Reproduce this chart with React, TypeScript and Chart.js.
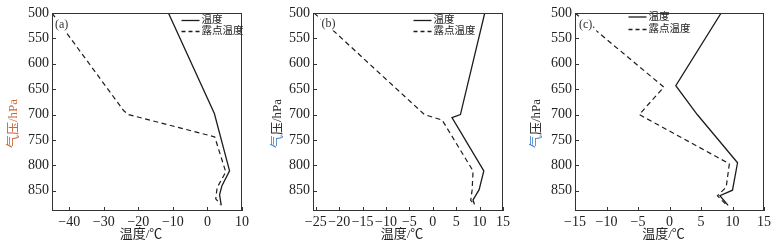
import React, { useEffect, useRef } from 'react';
import { Chart, registerables } from 'chart.js';
Chart.register(...registerables);

// ---------- data ----------
const pressureTicks = [500, 550, 600, 650, 700, 750, 800, 850];
const xTicksA = [-40, -30, -20, -10, 0, 10];
const xTicksB = [-25, -20, -15, -10, -5, 0, 5, 10, 15];
const xTicksC = [-15, -10, -5, 0, 5, 10, 15];

// panel (a)
const tempA = [-11.3, 2.0, 6.4, 4.2, 3.5, 4.0];
const tempPresA = [500, 698, 811, 840, 858, 879];
const dewA = [-45, -24.3, -22.9, 2.1, 5.3, 2.8, 2.4, 3.75];
const dewPresA = [500, 692, 700, 744, 813, 844, 866, 877];

// panel (b)
const tempB = [11.1, 5.9, 4.1, 10.9, 9.9, 8.6, 8.9];
const tempPresB = [500, 700, 706, 811, 848, 868, 877];
const dewB = [-25.35, -1.8, 2.0, 8.6, 8.4, 8.1, 8.9];
const dewPresB = [500, 700, 711, 811, 849, 869, 877];

// panel (c)
const tempC = [8.2, 1.0, 4.4, 10.8, 10.0, 8.0, 9.3];
const tempPresC = [500, 643, 700, 795, 849, 860, 879];
const dewC = [-15, -0.9, -4.8, 9.5, 9.0, 7.6, 9.2];
const dewPresC = [500, 646, 700, 797, 843, 860, 880];

const seriesLabels = ['温度', '露点温度'];
const panelLabels = ['(a)', '(b)', '(c).'];
const xTitle = '温度/℃';
const yTitleParts = ['气', '压/hPa'];

// ---------- styling / layout ----------
const SERIF = '"Liberation Serif", "Noto Sans CJK SC", serif';
const LINE_COLOR = '#1c1c1c';
const AXIS_COLOR = '#333';
const H = 247;
const PLOT_TOP = 13;
const PLOT_BOTTOM = 211;
const YAXIS_W = 40;
const LEFT_PAD = 12;
const RIGHT_PAD = 14;
const XAXIS_H = 30;

type PanelCfg = {
  plotLeft: number;
  plotRight: number;
  xMin: number;
  xMax: number;
  xTicks: number[];
  temp: number[];
  tempP: number[];
  dew: number[];
  dewP: number[];
  label: string;
  labelPos: [number, number];
  legendPos: [number, number];
  legendGap: number;
  yTitleOffset: number;
  yTitleColors: string[];
};

const panels: PanelCfg[] = [
  {
    plotLeft: 52, plotRight: 242, xMin: -45, xMax: 10, xTicks: xTicksA,
    temp: tempA, tempP: tempPresA, dew: dewA, dewP: dewPresA,
    label: panelLabels[0], labelPos: [55, 25], legendPos: [181.5, 20.5], legendGap: 11,
    yTitleOffset: 38.5, yTitleColors: ['#c96a3c', '#c96a3c'],
  },
  {
    plotLeft: 313, plotRight: 503, xMin: -25.6, xMax: 15, xTicks: xTicksB,
    temp: tempB, tempP: tempPresB, dew: dewB, dewP: dewPresB,
    label: panelLabels[1], labelPos: [321.5, 23.5], legendPos: [413.5, 20.5], legendGap: 11,
    yTitleOffset: 35.5, yTitleColors: ['#4a86c8', '#2a2a2a'],
  },
  {
    plotLeft: 575, plotRight: 764, xMin: -15, xMax: 15, xTicks: xTicksC,
    temp: tempC, tempP: tempPresC, dew: dewC, dewP: dewPresC,
    label: panelLabels[2], labelPos: [579, 25], legendPos: [628.5, 17], legendGap: 12.5,
    yTitleOffset: 38.3, yTitleColors: ['#4a86c8', '#2a2a2a'],
  },
];

const decorPlugin = {
  id: 'decor',
  afterDraw(chart: any, _args: any, o: any) {
    const ctx = chart.ctx as CanvasRenderingContext2D;
    const { left, right, top, bottom } = chart.chartArea;
    const xs = chart.scales.x;
    const ys = chart.scales.y;
    const offX = o.canvasLeft as number;
    ctx.save();

    // panel label with white backing
    ctx.font = `12px ${SERIF}`;
    ctx.textBaseline = 'middle';
    ctx.textAlign = 'left';
    const lx = o.labelPos[0] - offX;
    const ly = o.labelPos[1];
    const lw = ctx.measureText(o.label).width;
    ctx.fillStyle = '#fff';
    ctx.fillRect(lx - 1, ly - 7, lw + 2, 14);
    ctx.fillStyle = '#333';
    ctx.fillText(o.label, lx, ly);

    // box and inward ticks
    ctx.strokeStyle = AXIS_COLOR;
    ctx.lineWidth = 1;
    ctx.setLineDash([]);
    ctx.strokeRect(Math.round(left) + 0.5, Math.round(top) + 0.5, Math.round(right - left) - 1, Math.round(bottom - top) - 1);
    ctx.beginPath();
    (o.xTicks as number[]).forEach((v) => {
      const px = Math.round(xs.getPixelForValue(v)) + 0.5;
      ctx.moveTo(px, bottom);
      ctx.lineTo(px, bottom - 4);
    });
    (o.yTicks as number[]).forEach((v) => {
      const py = Math.round(ys.getPixelForValue(v)) + 0.5;
      ctx.moveTo(left, py);
      ctx.lineTo(left + 4, py);
    });
    ctx.stroke();

    // legend
    const [gx0, gy0] = o.legendPos;
    const gx = gx0 - offX;
    const datasets = chart.data.datasets;
    ctx.font = `10.5px ${SERIF}`;
    ctx.textAlign = 'left';
    ctx.textBaseline = 'middle';
    datasets.forEach((ds: any, i: number) => {
      const yy = gy0 + i * o.legendGap;
      ctx.beginPath();
      ctx.strokeStyle = ds.borderColor;
      ctx.lineWidth = 1.3;
      ctx.setLineDash(ds.borderDash && ds.borderDash.length ? [4, 3] : []);
      ctx.moveTo(gx, yy);
      ctx.lineTo(gx + 18, yy);
      ctx.stroke();
      ctx.setLineDash([]);
      ctx.fillStyle = '#222';
      ctx.fillText(ds.label, gx + 20, yy);
    });

    // x title
    ctx.font = `13px ${SERIF}`;
    ctx.textAlign = 'center';
    ctx.textBaseline = 'middle';
    ctx.fillStyle = '#222';
    ctx.fillText(o.xTitle, (left + right) / 2 - 6, 235);

    // y title (rotated, coloured parts)
    ctx.save();
    ctx.translate(left - o.yTitleOffset, H / 2);
    ctx.rotate(-Math.PI / 2);
    ctx.textAlign = 'left';
    const parts: string[] = o.yTitleParts;
    const widths = parts.map((p) => ctx.measureText(p).width);
    let cx = -widths.reduce((a, b) => a + b, 0) / 2;
    parts.forEach((p, i) => {
      ctx.fillStyle = o.yTitleColors[i];
      ctx.fillText(p, cx, 0);
      cx += widths[i];
    });
    ctx.restore();

    ctx.restore();
  },
};

function Panel({ cfg }: { cfg: PanelCfg }) {
  const ref = useRef<HTMLCanvasElement | null>(null);
  const canvasLeft = cfg.plotLeft - LEFT_PAD - YAXIS_W;
  const width = cfg.plotRight - cfg.plotLeft + LEFT_PAD + YAXIS_W + RIGHT_PAD;

  useEffect(() => {
    if (!ref.current) return;
    const toPts = (xs: number[], ps: number[]) => xs.map((x, i) => ({ x, y: ps[i] }));
    const chart = new Chart(ref.current, {
      type: 'scatter',
      data: {
        datasets: [
          {
            label: seriesLabels[0],
            data: toPts(cfg.temp, cfg.tempP),
            showLine: true,
            borderColor: LINE_COLOR,
            backgroundColor: LINE_COLOR,
            borderWidth: 1.3,
            pointRadius: 0,
            borderDash: [],
          },
          {
            label: seriesLabels[1],
            data: toPts(cfg.dew, cfg.dewP),
            showLine: true,
            borderColor: LINE_COLOR,
            backgroundColor: LINE_COLOR,
            borderWidth: 1.2,
            pointRadius: 0,
            borderDash: [5, 3.5],
          },
        ],
      },
      options: {
        animation: false,
        responsive: false,
        devicePixelRatio: 1,
        events: [],
        layout: {
          padding: { left: LEFT_PAD, right: RIGHT_PAD, top: PLOT_TOP, bottom: H - PLOT_BOTTOM - XAXIS_H },
        },
        plugins: {
          legend: { display: false },
          tooltip: { enabled: false },
          decor: {
            canvasLeft,
            xTicks: cfg.xTicks,
            yTicks: pressureTicks,
            label: cfg.label,
            labelPos: cfg.labelPos,
            legendPos: cfg.legendPos,
            legendGap: cfg.legendGap,
            xTitle,
            yTitleParts,
            yTitleOffset: cfg.yTitleOffset,
            yTitleColors: cfg.yTitleColors,
          },
        } as any,
        scales: {
          x: {
            type: 'linear',
            min: cfg.xMin,
            max: cfg.xMax,
            grid: { display: false, drawTicks: false },
            border: { display: false },
            afterBuildTicks: (s: any) => {
              s.ticks = cfg.xTicks.map((v) => ({ value: v }));
            },
            afterFit: (s: any) => {
              s.height = XAXIS_H;
            },
            ticks: {
              autoSkip: false,
              maxRotation: 0,
              padding: 3,
              color: '#222',
              font: { family: SERIF, size: 14 },
              callback: (v: any) => String(v).replace('-', '\u2212'),
            },
          },
          y: {
            type: 'linear',
            reverse: true,
            min: 500,
            max: 890,
            grid: { display: false, drawTicks: false },
            border: { display: false },
            afterBuildTicks: (s: any) => {
              s.ticks = pressureTicks.map((v) => ({ value: v }));
            },
            afterFit: (s: any) => {
              s.width = YAXIS_W;
            },
            ticks: {
              autoSkip: false,
              padding: 3,
              color: '#222',
              font: { family: SERIF, size: 14 },
            },
          },
        },
      },
      plugins: [decorPlugin as any],
    });
    return () => chart.destroy();
  }, [cfg, canvasLeft]);

  return (
    <canvas
      ref={ref}
      width={width}
      height={H}
      style={{ position: 'absolute', left: canvasLeft, top: 0, width, height: H }}
    />
  );
}

export default function App() {
  return (
    <div
      style={{
        position: 'absolute',
        left: 0,
        top: 0,
        width: 777,
        height: H,
        background: '#fff',
        overflow: 'hidden',
      }}
    >
      {panels.map((p, i) => (
        <Panel key={i} cfg={p} />
      ))}
    </div>
  );
}
